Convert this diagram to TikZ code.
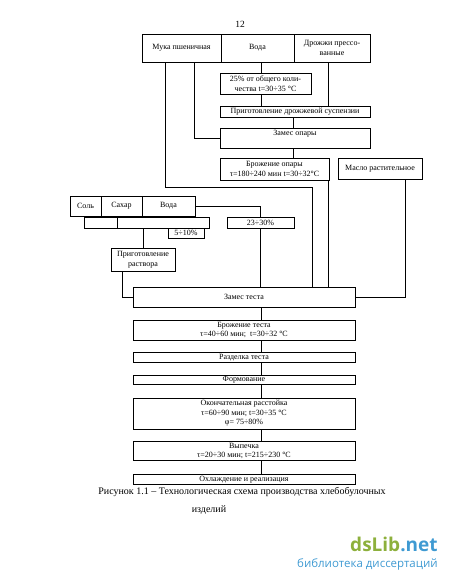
\documentclass[tikz,border=0pt]{standalone}
\usepackage{fontspec}
\setmainfont{Liberation Serif}
\newfontfamily\wmfont{Open Sans}
\usepackage{tikz}
\definecolor{wmgreen}{HTML}{8DB03C}
\definecolor{wmblue}{HTML}{3F9AD2}

\begin{document}
\begin{tikzpicture}[x=1pt,y=-1pt,line width=0.7pt,
  main/.style = {draw, inner sep=0pt, align=center, font=\fontsize{8}{9.6}\selectfont},
  bx/.style 2 args = {minimum width=#1pt, minimum height=#2pt}]
\useasboundingbox (0,0) rectangle (450,582);
\node(0) at (240,24) {\fontsize{9.5}{10}\selectfont 12};
\node[main,bx={79}{28}](1) at (181.5,48) {Мука пшеничная}; \node[main,bx={73}{28}](2) at (257.5,48) {Вода}; \node[main,bx={76}{28}](3) at (332,48) {Дрожжи прессо-\\ванные};
\node[main,bx={91}{21}](4) at (265.5,83.5) {25\% от общего коли-\\чества t=30÷35 °С};
\node[main,bx={150}{11}](5) at (295,111.5) {Приготовление дрожжевой суспензии};
\node[main,bx={150}{20}](6) at (295,138) {Замес опары\\[1pt]\mbox{}};
\node[main,bx={109}{22}](7) at (274.5,169) {Брожение опары\\τ=180÷240 мин t=30÷32°С}; \node[main,bx={84}{21}](8) at (380,168.5) {Масло растительное};
\node[main,bx={31}{20}](9) at (85.5,206) {Соль}; \node[main,bx={41}{20}](10) at (121.5,206) {Сахар}; \node[main,bx={53}{20}](11) at (168.5,206) {Вода};
\node[main,bx={33}{11}](12) at (100.5,222.5) {}; \node[main,bx={92}{11}](13) at (163,222.5) {}; \node[main,bx={36}{10}](14) at (186,233) {5÷10\%};
\node[main,bx={67}{11}](15) at (260.5,222.5) {23÷30\%};
\node[main,bx={64}{23}](16) at (143,259.5) {Приготовление\\раствора};
\node[main,bx={222}{20}](17) at (244,297) {Замес теста};
\node[main,bx={222}{20}](18) at (244,330) {Брожение теста\\τ=40÷60 мин;\ \ t=30÷32 °С};
\node[main,bx={222}{9.5}](19) at (244,357.5) {Разделка теста};
\node[main,bx={222}{9}](20) at (244,380) {Формование};
\node[main,bx={222}{31}](21) at (244,413.5) {Окончательная расстойка\\τ=60÷90 мин; t=30÷35 °С\\φ= 75÷80\%};
\node[main,bx={222}{19}](22) at (244,451) {Выпечка\\τ=20÷30 мин; t=215÷230 °С};
\node[main,bx={222}{9.5}](23) at (244,479.5) {Охлаждение и реализация};
\node(24) at (242,492) {\fontsize{10}{11}\selectfont Рисунок 1.1 – Технологическая схема производства хлебобулочных};
\node(25) at (209,510) {\fontsize{10}{11}\selectfont изделий};
\node[anchor=east,inner sep=0pt](26) at (438,544) {\wmfont\bfseries\fontsize{19}{20}\selectfont{\color{wmgreen}dsLib}{\color{wmblue}.net}};
\node[anchor=east,inner sep=0pt](27) at (438,564) {\wmfont\fontsize{11.5}{13}\selectfont\color{wmblue}библиотека диссертаций};
\coordinate (a) at (165,0); \coordinate (b) at (194,0); \coordinate (c) at (261,0); \coordinate (d) at (328,0); \coordinate (e) at (293,0); \coordinate (f) at (312,0); \coordinate (g) at (405,0); \coordinate (h) at (122,0);
\coordinate (k1) at (312,187);
\draw (1.south -| a) |- (k1) -- (17.north -| f);
\draw (1.south -| b) |- (6.west);
\draw (2.south -| c) -- (4.north -| c); \draw (4.south -| c) -- (5.north -| c);
\draw (3.south -| d) -- (5.north -| d);
\draw (5.south -| e) -- (6.north -| e); \draw (6.south -| e) -- (7.north -| e);
\draw (7.south -| d) -- (17.north -| d);
\draw (8.south -| g) |- (17.east);
\draw (11.east) -| (15.north); \draw (15.south) -- (15.south |- 17.north);
\draw (16.north) -- (16.north |- 13.south);
\draw (16.south -| h) |- (17.west);
\draw (17.south -| c) -- (18.north -| c); \draw (18.south -| c) -- (19.north -| c); \draw (19.south -| c) -- (20.north -| c);
\draw (20.south -| c) -- (21.north -| c); \draw (21.south -| c) -- (22.north -| c); \draw (22.south -| c) -- (23.north -| c);
\end{tikzpicture}
\end{document}
